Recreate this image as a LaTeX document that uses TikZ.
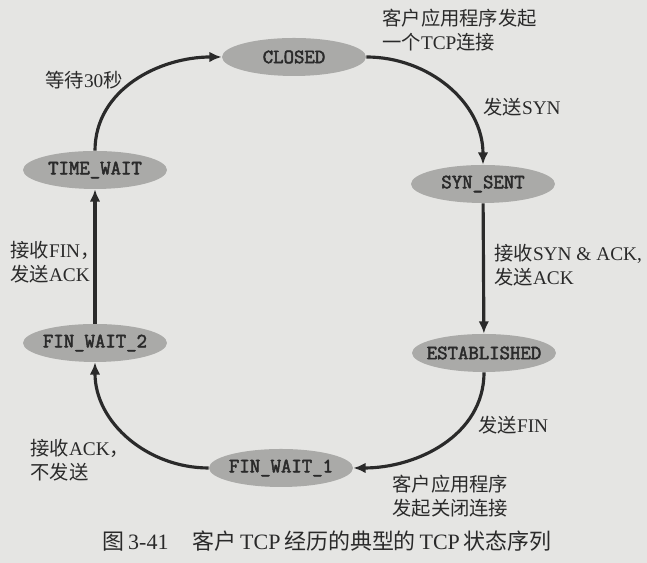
\documentclass[tikz,border=0pt]{standalone}
\usepackage{fontspec}
\setmainfont{Liberation Serif}
\newfontfamily\cjk{Noto Sans CJK SC}
\newfontfamily\statofont[FakeBold=2.5]{Latin Modern Mono}
\usetikzlibrary{arrows.meta,shapes.geometric}

% Testo cinese
\newcommand{\zh}[1]{{\cjk #1}}

\definecolor{sfondo}{RGB}{229,229,227}
\definecolor{ellisse}{RGB}{170,170,168}
\definecolor{inchiostro}{RGB}{42,42,42}

\begin{document}
\begin{tikzpicture}[x=0.02cm, y=0.02cm,
		% Stile per gli stati: ellissi grigie, testo monospaziato in grassetto
		% (il testo sta in una scatola di larghezza zero, cosi' l'ellisse non si allarga)
		stato/.style={ellipse, fill=ellisse, minimum width=2.88cm, minimum height=0.76cm, inner sep=0pt,
			font=\statofont\fontsize{11.5}{12}\selectfont, text=inchiostro,
			execute at begin node={\hbox to 0pt\bgroup\hss}, execute at end node={\hss\egroup}},
		% Stile per le etichette delle transizioni
		etichetta/.style={anchor=west, align=left, inner sep=0pt, text=inchiostro,
			font=\fontsize{11}{13.6}\selectfont},
		% Stile per le frecce
		freccia/.style={line width=1.8pt, draw=inchiostro, -{Latex[length=7pt,width=6pt]}}
	]

	% Sfondo e margini
	\fill[sfondo] (0,0) rectangle (647,563);
	\useasboundingbox (0,0) rectangle (647,563);

	% =================================
	% STATI
	% =================================
	\node[stato] (closed) at (294,506) {CLOSED};
	\node[stato] (synsent) at (483,379) {SYN\_SENT};
	\node[stato] (established) at (484,210) {ESTABLISHED};
	\node[stato] (finwait1) at (281,95) {FIN\_WAIT\_1};
	\node[stato] (finwait2) at (95,220) {FIN\_WAIT\_2};
	\node[stato] (timewait) at (95,393) {TIME\_WAIT};

	% =================================
	% TRANSIZIONI (Archi)
	% =================================
	\draw[freccia] (closed.east) to[out=0, in=90] (synsent.north);
	\draw[freccia] (synsent) -- (established);
	\draw[freccia] (established.south) to[out=-90, in=0] (finwait1.east);
	\draw[freccia] (finwait1.west) to[out=180, in=-90] (finwait2.south);
	\draw[freccia] (finwait2) -- (timewait);
	\draw[freccia] (timewait.north) to[out=90, in=180] (closed.west);

	% =================================
	% ETICHETTE
	% =================================
	\node[etichetta] (aprire) at (382,533) {\zh{客户应用程序发起}\\\zh{一个}TCP\zh{连接}};
	\node[etichetta] (inviasyn) at (483,456) {\zh{发送}SYN};
	\node[etichetta] (ricevisyn) at (494,298) {\zh{接收}SYN \& ACK,\\\zh{发送}ACK};
	\node[etichetta] (inviafin) at (478,138) {\zh{发送}FIN};
	\node[etichetta] (chiudere) at (392,67) {\zh{客户应用程序}\\\zh{发起关闭连接}};
	\node[etichetta] (riceviack) at (30,103) {\zh{接收}ACK\zh{，}\\\zh{不发送}};
	\node[etichetta] (ricevifin) at (10,301) {\zh{接收}FIN\zh{，}\\\zh{发送}ACK};
	\node[etichetta] (attesa) at (45,483) {\zh{等待}30\zh{秒}};

	% Didascalia
	\node[inner sep=0pt, text=inchiostro, font=\fontsize{12.5}{14}\selectfont] (didascalia) at (327,22)
		{\zh{图}\,3-41\hspace{1.1em}\zh{客户}\,TCP\,\zh{经历的典型的}\,TCP\,\zh{状态序列}};

\end{tikzpicture}
\end{document}
